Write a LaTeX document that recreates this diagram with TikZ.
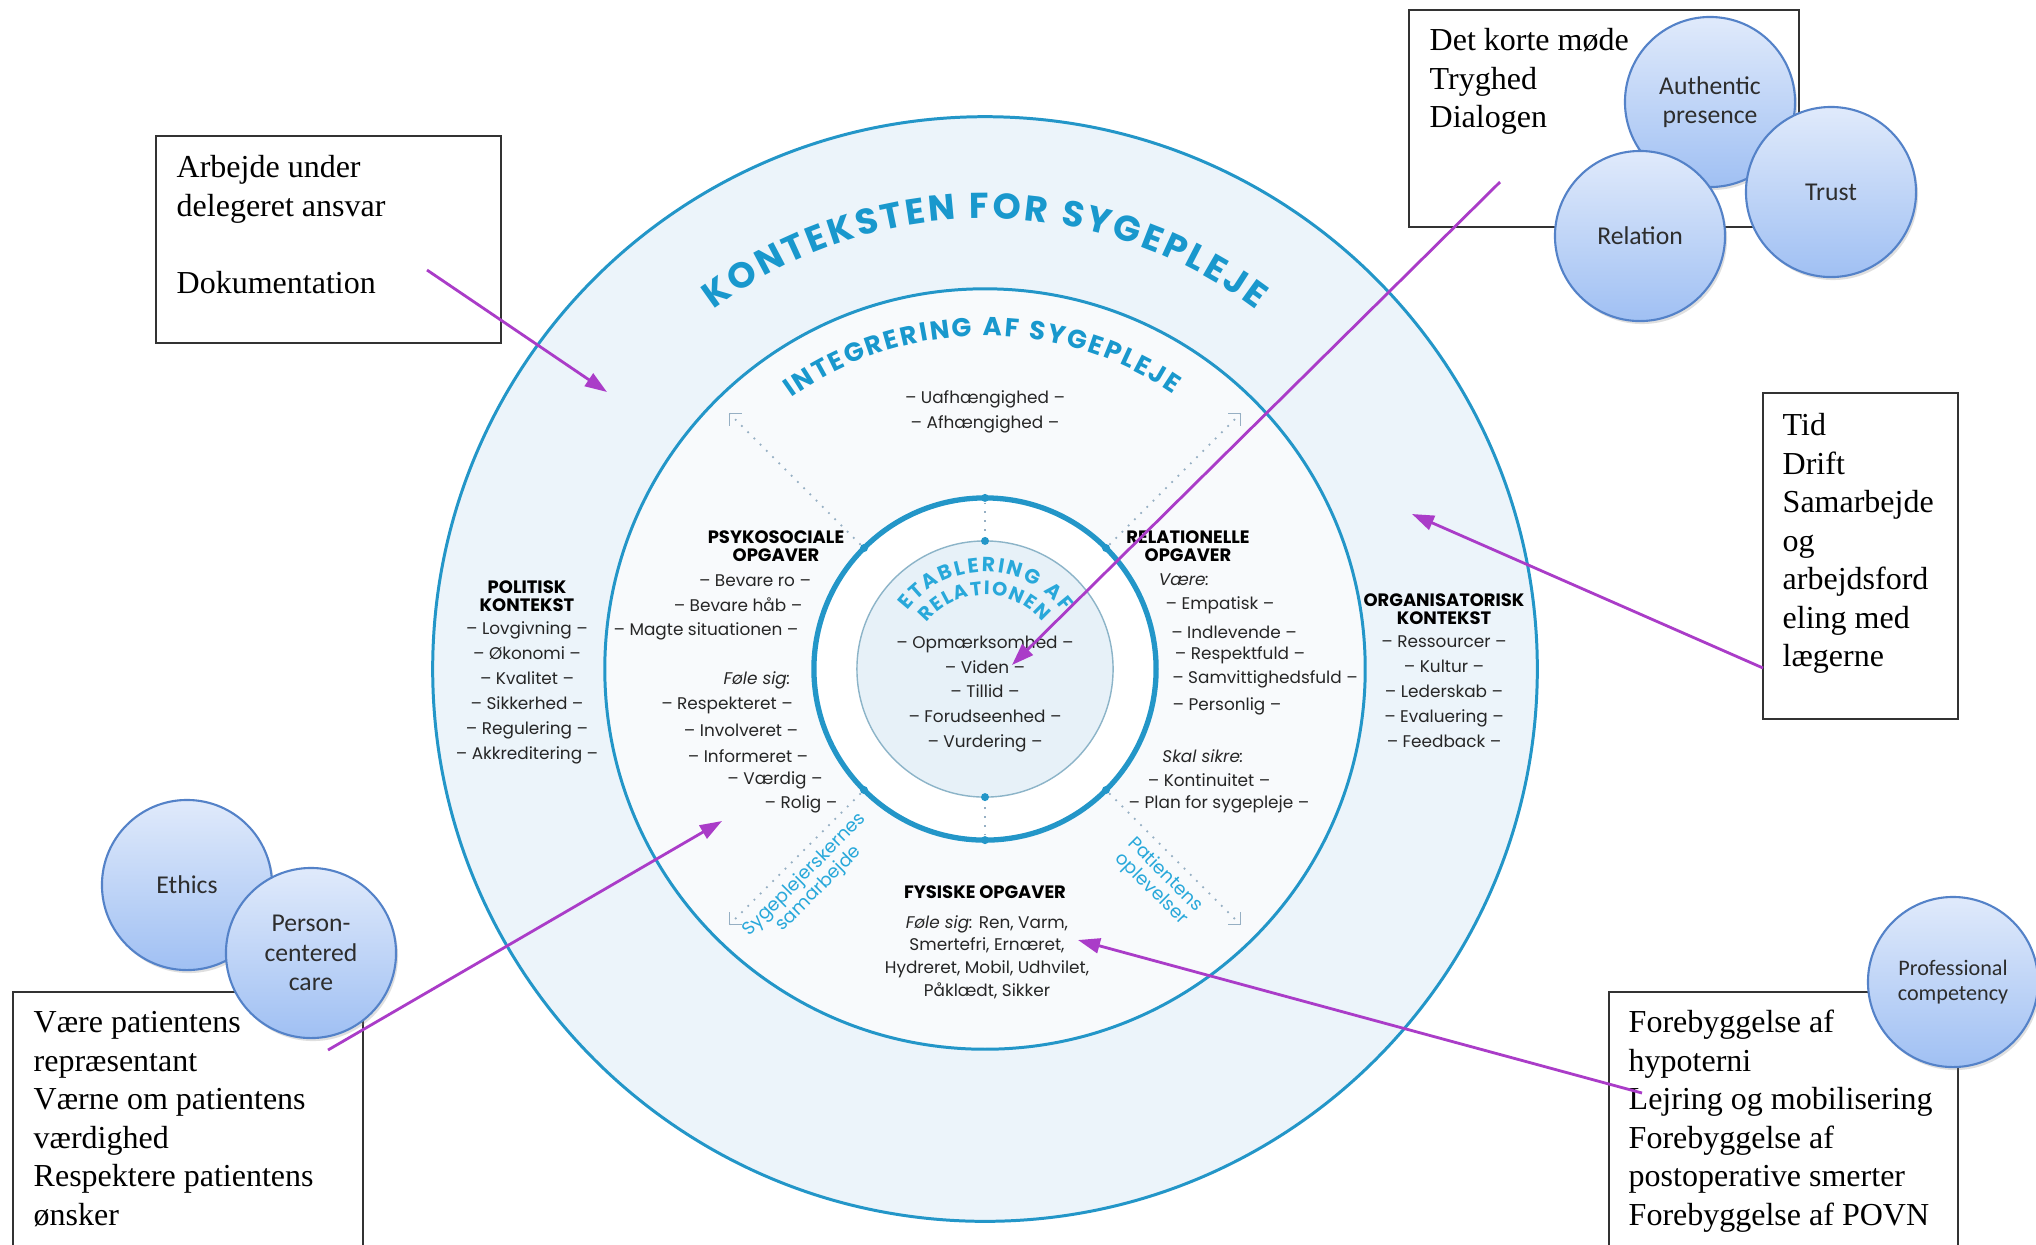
\documentclass[tikz,border=0pt]{standalone}
\usepackage{fontspec}
\setmainfont{Liberation Serif}
\newfontfamily\geo{Poppins}
\newfontfamily\bub{Carlito}
\usetikzlibrary{arrows.meta,decorations.text,shadows}

\definecolor{ringblue}{RGB}{35,150,200}
\definecolor{titleblue}{RGB}{25,152,205}
\definecolor{etabblue}{RGB}{40,168,218}
\definecolor{outerfill}{RGB}{236,244,250}
\definecolor{midfill}{RGB}{248,250,252}
\definecolor{innerfill}{RGB}{231,241,248}
\definecolor{innerline}{RGB}{140,180,200}
\definecolor{guidegrey}{RGB}{150,175,195}
\definecolor{pointerpurple}{RGB}{170,60,200}
\definecolor{bubtop}{RGB}{224,234,251}
\definecolor{bubbot}{RGB}{160,192,243}
\definecolor{bubedge}{RGB}{84,130,200}
\definecolor{bubtext}{RGB}{45,45,45}

\newcommand{\topstrut}{\rule{0pt}{8pt}}

\tikzset{
  ringline/.style={draw=ringblue, line width=0.85pt},
  ringdot/.style={circle, fill=ringblue, inner sep=0pt, minimum size=0.08cm},
  guide/.style={draw=guidegrey, line width=0.5pt, dotted},
  cornermark/.style={draw=guidegrey, line width=0.5pt},
  ctx/.style={font=\geo\fontsize{4.8}{7.1}\selectfont, text=black!85, inner sep=0pt, align=center},
  ctxhead/.style={font=\geo\bfseries\fontsize{5.1}{5}\selectfont, inner sep=0pt, align=center},
  sidetxt/.style={font=\geo\fontsize{5.2}{5.6}\selectfont, text=etabblue, inner sep=0pt, align=center},
  frame/.style={draw=black!80, line width=0.5pt, fill=white, inner sep=0pt, outer sep=0pt, anchor=north west},
  notetxt/.style={font=\fontsize{9.1}{10.95}\selectfont, align=left, inner sep=0pt, anchor=north west},
  bubble/.style={circle, minimum size=1.7cm, inner sep=0pt, draw=bubedge, line width=0.6pt,
    top color=bubtop, bottom color=bubbot,
    drop shadow={shadow xshift=0.02cm, shadow yshift=-0.03cm, opacity=0.25},
    align=center, text=bubtext, font=\bub\fontsize{7.3}{8.4}\selectfont},
  pointer/.style={draw=pointerpurple, line width=0.8pt, -{Triangle[length=0.22cm,width=0.15cm]}},
}

\begin{document}
\begin{tikzpicture}[x=0.01cm,y=0.01cm]
	%%%%% START %%%%%
	\useasboundingbox (0,0) rectangle (2036,-1244);
	\fill[white] (0,0) rectangle (2036,-1244);
	
	\coordinate (C) at (985,-669);
	\begin{scope}[shift={(C)}]
		% rings
		\draw[ringline, fill=outerfill] (0,0) circle[radius=5.52cm];
		\draw[ringline, fill=midfill] (0,0) circle[radius=3.80cm];
		\draw[ringline, line width=1.5pt, fill=white] (0,0) circle[radius=1.71cm];
		\draw[draw=innerline, line width=0.4pt, fill=innerfill] (0,0) circle[radius=1.28cm];
		
		% dots and dotted guides
		\foreach \a in {45,90,135,225,270,315}
			\node[ringdot] (rd\a) at (\a:1.71cm) {};
		\node[ringdot] (id90) at (90:1.28cm) {};
		\node[ringdot] (id270) at (270:1.28cm) {};
		\draw[guide] (rd90) -- (id90);
		\draw[guide] (rd270) -- (id270);
		\foreach \a/\sx/\sy in {135/12/-12, 45/-12/-12, 225/12/12, 315/-12/12}{
			\coordinate (cn\a) at (\a:3.61cm);
			\draw[guide] (rd\a) -- (cn\a);
			\draw[cornermark] (cn\a) ++(\sx,0) -- (cn\a) -- ++(0,\sy);
		}
		
		% curved titles
		\path[decorate, decoration={text along path, text align=fit to path, text color=titleblue,
			text={|\geo\bfseries\fontsize{10.2}{12}\selectfont|KONTEKSTEN FOR SYGEPLEJE}}]
			(127:4.5cm) arc[start angle=127, end angle=53, radius=4.5cm];
		\path[decorate, decoration={text along path, text align=fit to path, text color=titleblue,
			text={|\geo\bfseries\fontsize{7.4}{9}\selectfont|INTEGRERING AF SYGEPLEJE}}]
			(125.5:3.33cm) arc[start angle=125.5, end angle=55.5, radius=3.33cm];
		\path[decorate, decoration={text along path, text align=fit to path, text color=etabblue,
			text={|\geo\bfseries\fontsize{5.8}{7}\selectfont|ETABLERING AF}}]
			(143:0.97cm) arc[start angle=143, end angle=36, radius=0.97cm];
		\path[decorate, decoration={text along path, text align=fit to path, text color=etabblue,
			text={|\geo\bfseries\fontsize{5.5}{7}\selectfont|RELATIONEN}}]
			(141.5:0.74cm) arc[start angle=141.5, end angle=39.5, radius=0.74cm];
	\end{scope}
	
	% context texts
	\node[ctxhead] (polH) at (527,-596) {POLITISK\\KONTEKST};
	\node[ctx] (polL) at (527,-693) {– Lovgivning –\\– Økonomi –\\– Kvalitet –\\– Sikkerhed –\\– Regulering –\\– Akkreditering –};
	
	\node[ctxhead] (orgH) at (1444,-609) {ORGANISATORISK\\KONTEKST};
	\node[ctx] (orgL) at (1444,-692) {– Ressourcer –\\– Kultur –\\– Lederskab –\\– Evaluering –\\– Feedback –};
	
	\node[ctx] (uaf) at (985,-412) {– Uafhængighed –\\– Afhængighed –};
	\node[ctx] (etab) at (985,-694) {– Opmærksomhed –\\– Viden –\\– Tillid –\\– Forudseenhed –\\– Vurdering –};
	
	\node[ctxhead] (psyH) at (776,-546) {PSYKOSOCIALE\\OPGAVER};
	\foreach \x/\y/\t [count=\i] in {755/581/{– Bevare ro –}, 738/605/{– Bevare håb –},
		706/631/{– Magte situationen –}, 757/680/{\itshape Føle sig:}, 727/705/{– Respekteret –},
		741/730/{– Involveret –}, 748/756/{– Informeret –}, 775/780/{– Værdig –}, 801/804/{– Rolig –}}
		\node[ctx] (psy\i) at (\x,-\y) {\t};
	
	\node[ctxhead] (relH) at (1188,-546) {RELATIONELLE\\OPGAVER};
	\foreach \x/\y/\t [count=\i] in {1184/580/{\itshape Være:}, 1220/605/{– Empatisk –},
		1234/632/{– Indlevende –}, 1240/655/{– Respektfuld –}, 1265/679/{– Samvittighedsfuld –},
		1227/706/{– Personlig –}, 1203/756/{\itshape Skal sikre:}, 1209/780/{– Kontinuitet –},
		1219/804/{– Plan for sygepleje –}}
		\node[ctx] (rel\i) at (\x,-\y) {\t};
	
	\node[ctxhead] (fysH) at (985,-892) {FYSISKE OPGAVER};
	\node[ctx, font=\geo\fontsize{4.8}{6.4}\selectfont] (fysL) at (987,-957) {{\itshape Føle sig:} Ren, Varm,\\Smertefri, Ernæret,\\Hydreret, Mobil, Udhvilet,\\Påklædt, Sikker};
	
	\node[sidetxt, rotate=45] (syg) at (812,-882) {Sygeplejerskernes\\samarbejde};
	\node[sidetxt, rotate=-45] (pat) at (1158,-882) {Patientens\\oplevelser};
	
	%%%%% NOTES %%%%%
	\node[frame, minimum width=3.45cm, minimum height=2.07cm] (boxA) at (156,-136) {};
	\node[notetxt] (txtA) at (176,-149) {\topstrut Arbejde under\\delegeret ansvar\\[10.95pt]Dokumentation};
	
	\node[frame, minimum width=3.90cm, minimum height=2.17cm] (boxB) at (1409,-10) {};
	\node[notetxt] (txtB) at (1429,-22) {\topstrut Det korte møde\\Tryghed\\Dialogen};
	
	\node[frame, minimum width=1.95cm, minimum height=3.26cm] (boxC) at (1763,-393) {};
	\node[notetxt] (txtC) at (1782,-407) {\topstrut Tid\\Drift\\Samarbejde\\og\\arbejdsford\\eling med\\lægerne};
	
	\node[frame, minimum width=3.50cm, minimum height=2.70cm] (boxD) at (13,-992) {};
	\node[notetxt] (txtD) at (33,-1004) {\topstrut Være patientens\\repræsentant\\Værne om patientens\\værdighed\\Respektere patientens\\ønsker};
	
	\node[frame, minimum width=3.49cm, minimum height=2.70cm] (boxE) at (1609,-992) {};
	\node[notetxt] (txtE) at (1628,-1004) {\topstrut Forebyggelse af\\hypoterni\\Lejring og mobilisering\\Forebyggelse af\\postoperative smerter\\Forebyggelse af POVN};
	
	%%%%% BUBBLES %%%%%
	\node[bubble] (auth) at (1710,-102) {Authentic\\presence};
	\node[bubble] (rela) at (1640,-236) {Relation};
	\node[bubble] (trus) at (1831,-192) {Trust};
	\node[bubble] (ethi) at (187,-885) {Ethics};
	\node[bubble] (pers) at (311,-953) {Person-\\centered\\care};
	\node[bubble, font=\bub\fontsize{6.3}{7.1}\selectfont] (prof) at (1953,-982) {Professional\\competency};
	
	%%%%% POINTERS %%%%%
	\coordinate (pA1) at (427,-270);
	\coordinate (pA2) at (607,-392);
	\coordinate (pB1) at (1500,-182);
	\coordinate (pB2) at (1012,-665);
	\coordinate (pC1) at (1763,-668);
	\coordinate (pC2) at (1412,-514);
	\coordinate (pD1) at (328,-1050);
	\coordinate (pD2) at (722,-821);
	\coordinate (pE1) at (1642,-1093);
	\coordinate (pE2) at (1078,-940);
	\draw[pointer] (pA1) -- (pA2);
	\draw[pointer] (pB1) -- (pB2);
	\draw[pointer] (pC1) -- (pC2);
	\draw[pointer] (pD1) -- (pD2);
	\draw[pointer] (pE1) -- (pE2);
	%%%%% END %%%%%
\end{tikzpicture}
\end{document}
